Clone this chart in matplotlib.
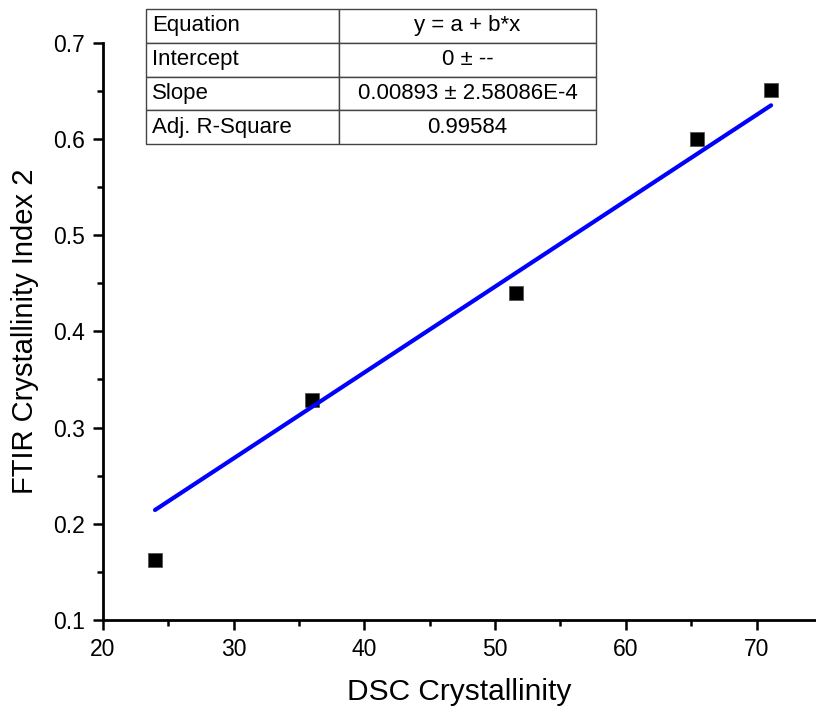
import matplotlib.pyplot as plt
import numpy as np

plt.rcParams['font.family'] = ['Liberation Sans', 'DejaVu Sans']

# data
dsc = [24.0, 36.0, 51.6, 65.45, 71.1]
ftir = [0.1624, 0.329, 0.4403, 0.600, 0.651]
slope = 0.00893
table_rows = [["Equation", "y = a + b*x"],
              ["Intercept", "0 \u00b1 --"],
              ["Slope", "0.00893 \u00b1 2.58086E-4"],
              ["Adj. R-Square", "0.99584"]]

fig = plt.figure(figsize=(8.16, 7.15), dpi=100)
ax = fig.add_axes([102.7 / 816, 95 / 715, (815.5 - 102.7) / 816, (620 - 42.7) / 715])

ax.plot(dsc, ftir, 's', color='black', markersize=9.4, markeredgecolor='#555555',
        markeredgewidth=0.6, zorder=2, clip_on=False)
xfit = np.array([dsc[0], dsc[-1]])
ax.plot(xfit, slope * xfit, color='#0000ff', linewidth=3.0, solid_capstyle='round', zorder=3)

ax.set_xlim(20, 20 + (815.5 - 102.7) / 13.08)
ax.set_ylim(0.1, 0.7)
ax.set_xticks([20, 30, 40, 50, 60, 70])
ax.set_xticks([25, 35, 45, 55, 65], minor=True)
ax.set_yticks([0.1, 0.2, 0.3, 0.4, 0.5, 0.6, 0.7])
ax.set_yticks([0.15, 0.25, 0.35, 0.45, 0.55, 0.65], minor=True)
ax.set_yticklabels(['0.1', '0.2', '0.3', '0.4', '0.5', '0.6', '0.7'])
ax.spines['top'].set_visible(False)
ax.spines['right'].set_visible(False)
for s in ['left', 'bottom']:
    ax.spines[s].set_linewidth(2)
ax.tick_params(which='major', direction='out', length=7, width=1.8, labelsize=16.5, pad=6)
ax.tick_params(which='minor', direction='out', length=4, width=1.8)
ax.set_xlabel('DSC Crystallinity', fontsize=21.5, labelpad=12)
ax.set_ylabel('FTIR Crystallinity Index 2', fontsize=21, labelpad=10)

# fit table (pixel edges)
W, H = 712.8, 577.3
left, mid, right = 145.7, 339.0, 596.0
top, bottom = 9.0, 144.3
tb = ax.table(cellText=table_rows, cellLoc='center',
              colWidths=[(mid - left) / W, (right - mid) / W],
              bbox=[(left - 102.7) / W, (620 - bottom) / H, (right - left) / W, (bottom - top) / H])
tb.auto_set_font_size(False)
for (r, c), cell in tb.get_celld().items():
    cell.set_linewidth(1.0)
    cell.set_edgecolor('#444444')
    cell.get_text().set_fontsize(16)
    if c == 0:
        cell.get_text().set_ha('left')
        cell.PAD = 0.035

fig.savefig('out.png', dpi=100)
